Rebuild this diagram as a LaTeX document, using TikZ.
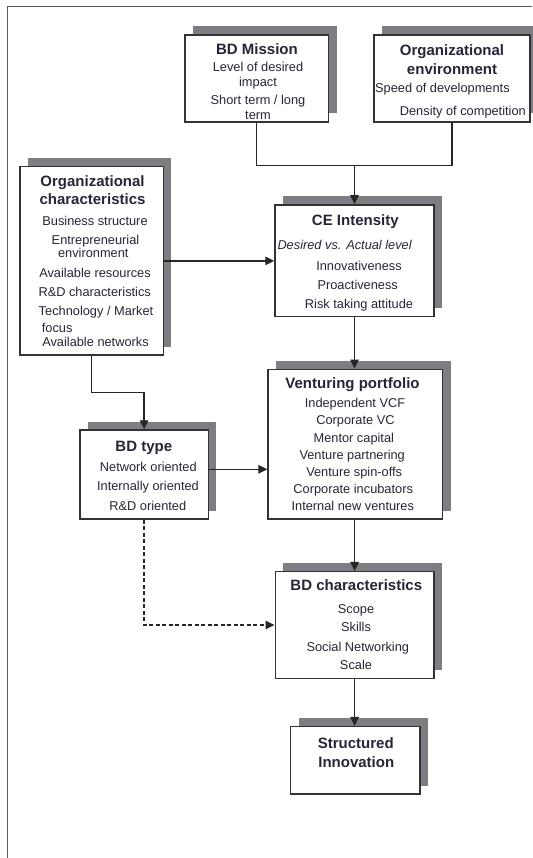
\documentclass[tikz,border=0pt]{standalone}
\usepackage{fontspec}
\setmainfont{Liberation Sans}
\usetikzlibrary{arrows.meta,shadows}

\definecolor{shadowgray}{RGB}{126,126,130}
\definecolor{boxline}{RGB}{50,50,55}
\definecolor{txt}{RGB}{38,38,55}
\definecolor{frameline}{RGB}{90,90,90}

\newcommand{\titlefont}{\fontsize{15}{18}\selectfont\bfseries}
\newcommand{\itemfont}{\fontsize{12.8}{15}\selectfont}

\tikzset{
  box/.style={draw=boxline, line width=1.5pt, fill=white,
    general shadow={fill=shadowgray, shadow xshift=8pt, shadow yshift=8.5pt},
    inner sep=0pt},
  ttl/.style={font=\titlefont, text=txt, anchor=base, inner sep=0pt},
  itm/.style={font=\itemfont, text=txt, anchor=base, inner sep=0pt},
  link/.style={draw=black!85, line width=1.4pt},
  arr/.style={link, -{Triangle[length=9pt,width=8.5pt]}},
}

\begin{document}
\begin{tikzpicture}[x=1pt, y=-1pt]
\useasboundingbox (0,0) rectangle (532,858);

% outer frame (top and left edges)
\draw[frameline, line width=1.4pt] (532,6.8) -- (7.5,6.8) -- (7.5,858);

% boxes
\node[box, minimum width=143.5pt, minimum height=87pt]    (mission) at (256.75,78.5)  {};
\node[box, minimum width=156pt,   minimum height=87pt]    (orgenv)  at (452,78.5)     {};
\node[box, minimum width=143.3pt, minimum height=188.3pt] (orgchar) at (91.65,260.85) {};
\node[box, minimum width=159pt,   minimum height=111.7pt] (ce)      at (354.5,260.85) {};
\node[box, minimum width=174.7pt, minimum height=149.7pt] (vent)    at (355.35,444.15){};
\node[box, minimum width=128.3pt, minimum height=89pt]    (bdtype)  at (144.15,474.5) {};
\node[box, minimum width=158.7pt, minimum height=106.6pt] (bdchar)  at (354.65,625)   {};
\node[box, minimum width=129.3pt, minimum height=67.3pt]  (si)      at (355.35,760.35){};

% BD Mission
\node[ttl] (missionT) at (257,55) {BD Mission};
\node[itm] (mission1) at (258,72)  {Level of desired};
\node[itm] (mission2) at (258,87)  {impact};
\node[itm] (mission3) at (258,105) {Short term / long};
\node[itm] (mission4) at (258,120) {term};

% Organizational environment
\node[ttl] (orgenvT1) at (452,56)   {Organizational};
\node[ttl] (orgenvT2) at (452,74.6) {environment};
\node[itm, anchor=base west] (orgenv1) at (375,93)  {Speed of developments};
\node[itm, anchor=base east] (orgenv2) at (526,116) {Density of competition};

% Organizational characteristics
\node[ttl] (orgcharT1) at (92.5,186.7) {Organizational};
\node[ttl] (orgcharT2) at (92.5,205)   {characteristics};
\node[itm] (orgchar1) at (95,225.7)  {Business structure};
\node[itm] (orgchar2) at (95.5,245)  {Entrepreneurial};
\node[itm] (orgchar3) at (93.3,258)  {environment};
\node[itm] (orgchar4) at (95,277.3)  {Available resources};
\node[itm] (orgchar5) at (94.7,296.7){R\&D characteristics};
\node[itm] (orgchar6) at (96,315.7)  {Technology / Market};
\node[itm, anchor=base west] (orgchar7) at (41.7,332.3) {focus};
\node[itm] (orgchar8) at (95.5,346.3){Available networks};

% CE Intensity
\node[ttl] (ceT) at (355.3,226) {CE Intensity};
\node[itm, anchor=base west, font=\itemfont\itshape] (ce0) at (277.3,250) {Desired vs. Actual level};
\node[itm] (ce1) at (359,270)   {Innovativeness};
\node[itm] (ce2) at (357.7,289.7){Proactiveness};
\node[itm] (ce3) at (359,308)   {Risk taking attitude};

% Venturing portfolio
\node[ttl] (ventT) at (352.5,388.3) {Venturing portfolio};
\node[itm] (vent1) at (355,407.3)   {Independent VCF};
\node[itm] (vent2) at (355.5,424)   {Corporate VC};
\node[itm] (vent3) at (353.8,442.3) {Mentor capital};
\node[itm] (vent4) at (352.2,459)   {Venture partnering};
\node[itm] (vent5) at (354.2,476.3) {Venture spin-offs};
\node[itm] (vent6) at (353.2,493.3) {Corporate incubators};
\node[itm] (vent7) at (352.8,510.7) {Internal new ventures};

% BD type
\node[ttl] (bdtypeT) at (143.8,451) {BD type};
\node[itm] (bdtype1) at (148.3,471.7) {Network oriented};
\node[itm] (bdtype2) at (148,490.7)   {Internally oriented};
\node[itm] (bdtype3) at (147.8,510)   {R\&D oriented};

% BD characteristics
\node[ttl] (bdcharT) at (356.3,590.7) {BD characteristics};
\node[itm] (bdchar1) at (356,613.3)   {Scope};
\node[itm] (bdchar2) at (356,631.3)   {Skills};
\node[itm] (bdchar3) at (357.8,651.3) {Social Networking};
\node[itm] (bdchar4) at (356,669.7)   {Scale};

% Structured Innovation
\node[ttl] (siT1) at (355.8,748.3) {Structured};
\node[ttl] (siT2) at (356.3,767)   {Innovation};

% connectors
\coordinate (join) at (354.5,165.6);
\coordinate (bend) at (91.65,392.3);
\coordinate (typeout) at (208.3,469.3);

\draw[link] (mission.south) |- (join) -| (orgenv.south);
\draw[arr] (join) -- (ce.north);
\draw[arr] (orgchar.east) -- (ce.west);
\draw[arr] (orgchar.south) -- (bend) -| (bdtype.north);
\draw[arr] (typeout) -- (typeout -| vent.west);
\draw[arr] (ce.south) -- (ce.south |- vent.north);
\draw[arr] (vent.south -| bdchar.north) -- (bdchar.north);
\draw[arr, dash pattern=on 4pt off 2.5pt] (bdtype.south) |- (bdchar.west);
\draw[arr] (bdchar.south) -- (bdchar.south |- si.north);
\end{tikzpicture}
\end{document}
